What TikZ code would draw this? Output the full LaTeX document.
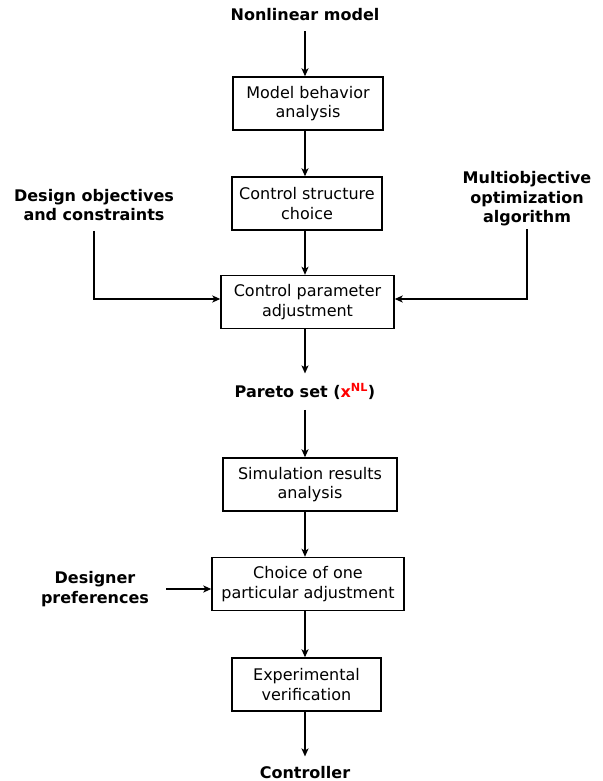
\documentclass[tikz,border=0pt]{standalone}
\usepackage{fontspec}
\setmainfont{DejaVu Sans}
\usetikzlibrary{arrows.meta}
\usetikzlibrary{positioning}
\usetikzlibrary{calc}

\begin{document}
\begin{tikzpicture}[x=1pt,y=-1pt,line width=1.4pt,
                      >={Stealth[length=8pt,width=7pt,inset=2pt]},
                      font=\fontsize{16}{19.5}\selectfont,
                      block/.style={draw,align=center,minimum height=53pt,inner sep=0pt},
                      io/.style={align=center,font=\fontsize{16}{19.5}\selectfont\bfseries,inner sep=0pt,outer sep=10pt},
                      ]
    \useasboundingbox (0,0) rectangle (602,781);
    \node[io] (model) at (305,15) {Nonlinear model};
    \node[block,minimum width=150pt] (behav) at (308,103.5) {Model behavior\\analysis};
    \node[block,minimum width=150pt] (struct) at (307,203.5) {Control structure\\choice};
    \node[block,minimum width=173pt] (adjust) at (307.5,302) {Control parameter\\adjustment};
    \draw[->] (model) -- (model |- behav.north);
    \draw[->] (behav.south -| model) -- (struct.north -| model);
    \draw[->] (struct.south -| model) -- (adjust.north -| model);

    \node[io] (objectives) at (94,205) {Design objectives\\and constraints};
    \node[io,outer sep=3pt] (moalgo) at (527,198.7) {Multiobjective\\optimization\\algorithm};
    \draw[->] (objectives) |- ([yshift=3pt]adjust.west);
    \draw[->] (moalgo) |- ([yshift=3pt]adjust.east);

    \node[io] (pareto) at (305,391.7) {Pareto set (\textcolor{red}{x\textsuperscript{NL}})};
    \draw[->] (adjust.south -| model) -- (pareto);

    \node[block,minimum width=174pt] (simul) at (310,484.5) {Simulation results\\analysis};
    \node[block,minimum width=192pt] (choose) at (308,584) {Choice of one\\particular adjustment};
    \node[block,minimum width=149pt] (verif) at (306.5,684.5) {Experimental\\verification};
    \draw[->] (pareto) -- (pareto |- simul.north);
    \draw[->] (simul.south -| model) -- (choose.north -| model);
    \draw[->] (choose.south -| model) -- (verif.north -| model);

    \node[io] (prefs) at (95,589) {Designer\\preferences};
    \draw[->,shorten <=7pt] (prefs) -- (prefs -| choose.west);

    \node[io] (ctrl) at (305,772.6) {Controller};
    \draw[->] (verif.south -| model) -- (ctrl);
\end{tikzpicture}
\end{document}
